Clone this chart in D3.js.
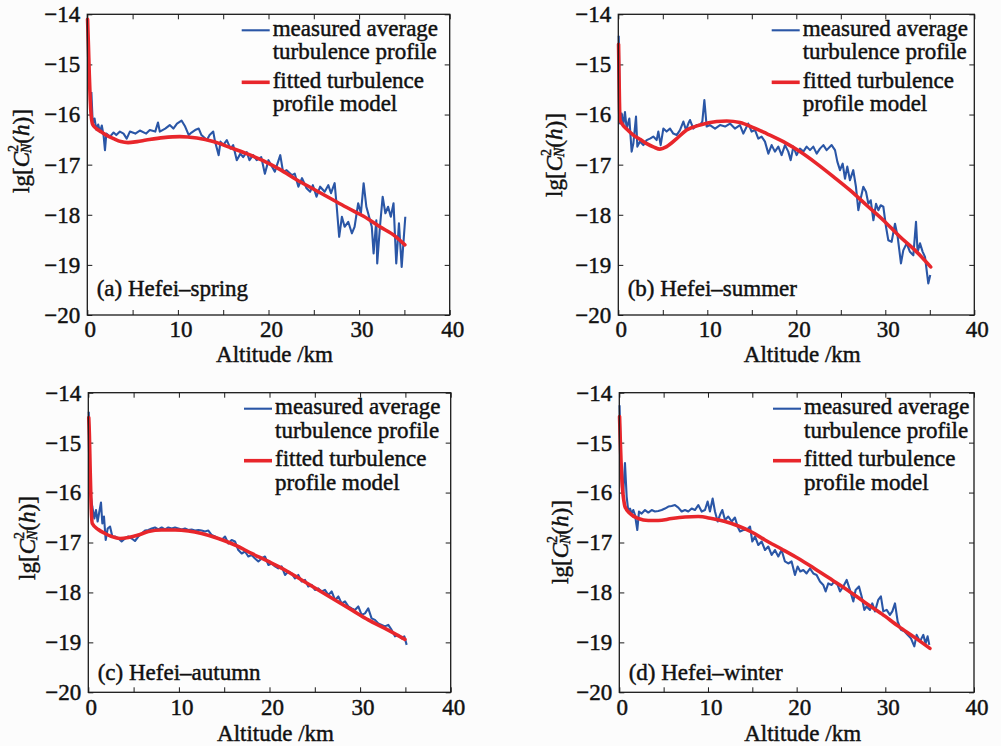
<!DOCTYPE html>
<html><head><meta charset="utf-8">
<script src="https://cdn.jsdelivr.net/npm/d3@7"></script>
<style>
html,body{margin:0;padding:0;background:#fcfcfc;}
svg{display:block;}
text{font-family:"Liberation Serif","Times New Roman",serif;fill:#111;stroke:#111;stroke-width:0.45px;}
</style></head>
<body>
<script>
// ---------------- data ----------------
const xTicks = [0, 5, 10, 15, 20, 25, 30, 35, 40];
const xTickLabels = [0, 10, 20, 30, 40];
const yTicks = [-20, -19, -18, -17, -16, -15, -14];
const legendLabels = [["measured average", "turbulence profile"], ["fitted turbulence", "profile model"]];
const panelTitles = ["(a) Hefei\u2013spring", "(b) Hefei\u2013summer", "(c) Hefei\u2013autumn", "(d) Hefei\u2013winter"];

const springMeasured = [[0.45,-15.55],[0.6,-16.18],[0.8,-16.08],[1.0,-16.3],[1.2,-16.2],[1.4,-16.35],[1.6,-16.22],[1.8,-16.42],[1.95,-16.71],[2.1,-16.38],[2.5,-16.44],[2.9,-16.36],[3.2,-16.41],[3.6,-16.34],[4.0,-16.38],[4.35,-16.48],[4.7,-16.34],[5.3,-16.38],[5.8,-16.32],[6.5,-16.38],[6.9,-16.31],[7.5,-16.34],[7.8,-16.16],[8.0,-16.34],[8.6,-16.28],[9.1,-16.21],[9.5,-16.28],[9.9,-16.18],[10.4,-16.12],[10.8,-16.24],[11.2,-16.41],[11.5,-16.36],[11.9,-16.31],[12.3,-16.28],[12.6,-16.41],[13.2,-16.51],[13.5,-16.41],[13.9,-16.34],[14.1,-16.54],[14.5,-16.81],[14.7,-16.54],[15.0,-16.61],[15.4,-16.51],[15.8,-16.68],[16.1,-16.61],[16.5,-16.91],[16.9,-16.78],[17.2,-16.85],[17.6,-16.75],[17.9,-16.91],[18.3,-16.81],[18.7,-16.91],[19.2,-16.85],[19.6,-17.18],[20.0,-16.91],[20.3,-17.01],[20.7,-17.14],[21.3,-16.81],[21.6,-17.14],[22.0,-17.11],[22.6,-17.21],[22.9,-17.18],[23.3,-17.44],[23.7,-17.27],[24.2,-17.47],[24.6,-17.54],[24.9,-17.41],[25.3,-17.64],[25.7,-17.44],[26.2,-17.54],[26.6,-17.41],[26.9,-17.57],[27.3,-17.37],[27.5,-17.77],[27.8,-18.44],[28.1,-18.04],[28.4,-18.24],[28.8,-18.14],[29.2,-18.37],[29.5,-18.24],[29.9,-17.77],[30.2,-17.97],[30.5,-17.37],[30.8,-17.84],[31.0,-17.97],[31.4,-18.24],[31.6,-18.77],[31.9,-18.11],[32.0,-18.97],[32.3,-18.24],[32.6,-17.64],[32.9,-17.97],[33.2,-17.84],[33.5,-18.04],[33.8,-17.77],[34.1,-18.97],[34.4,-18.17],[34.7,-19.04],[35.1,-18.04]];
const springFitted = [[0.03,-14.1],[0.12,-14.6],[0.22,-15.2],[0.32,-15.7],[0.42,-16.0],[0.6,-16.2],[1.0,-16.28],[1.4,-16.33],[2.0,-16.4],[2.9,-16.48],[3.7,-16.54],[4.5,-16.56],[5.5,-16.54],[6.5,-16.51],[8.4,-16.46],[10.2,-16.44],[12.1,-16.47],[13.9,-16.54],[15.8,-16.66],[17.6,-16.78],[19.4,-16.92],[21.3,-17.1],[23.1,-17.3],[24.9,-17.48],[26.8,-17.67],[28.6,-17.85],[30.5,-18.03],[32.3,-18.24],[34.0,-18.43],[35.05,-18.6]];

const summerMeasured = [[0.05,-14.43],[0.12,-15.3],[0.19,-16.18],[0.38,-15.98],[0.56,-16.21],[0.75,-15.95],[0.94,-16.28],[1.24,-16.08],[1.5,-16.74],[1.69,-16.58],[1.99,-16.04],[2.14,-16.64],[2.44,-16.54],[2.81,-16.61],[3.19,-16.51],[3.56,-16.48],[3.93,-16.44],[4.31,-16.51],[4.5,-16.34],[4.76,-16.61],[5.06,-16.28],[5.43,-16.34],[5.81,-16.28],[6.18,-16.38],[6.56,-16.41],[6.93,-16.31],[7.31,-16.14],[7.61,-16.31],[7.87,-16.18],[8.06,-16.11],[8.43,-16.28],[8.81,-16.21],[9.18,-16.21],[9.44,-16.14],[9.67,-15.71],[9.93,-16.24],[10.3,-16.21],[10.87,-16.28],[11.43,-16.21],[12.0,-16.24],[12.55,-16.18],[13.1,-16.28],[13.67,-16.21],[14.05,-16.38],[14.6,-16.18],[14.98,-16.34],[15.36,-16.31],[15.73,-16.48],[16.1,-16.44],[16.48,-16.54],[16.86,-16.78],[17.23,-16.61],[17.6,-16.74],[17.98,-16.64],[18.35,-16.81],[18.73,-16.61],[19.1,-16.74],[19.37,-16.91],[19.67,-16.64],[20.04,-16.81],[20.41,-16.68],[20.79,-16.74],[21.16,-16.64],[21.54,-16.71],[21.91,-16.64],[22.29,-16.78],[22.66,-16.68],[23.04,-16.61],[23.41,-16.71],[23.97,-16.61],[24.35,-16.71],[24.61,-16.94],[24.91,-17.11],[25.21,-16.98],[25.47,-17.28],[25.73,-17.04],[26.03,-17.31],[26.4,-17.11],[26.7,-17.44],[26.97,-17.91],[27.23,-17.68],[27.53,-17.44],[27.83,-17.54],[28.1,-17.78],[28.36,-17.71],[28.66,-18.11],[28.96,-17.78],[29.22,-17.91],[29.48,-17.81],[29.78,-17.84],[30.08,-18.24],[30.34,-18.51],[30.71,-18.54],[31.09,-18.18],[31.39,-18.44],[31.76,-18.97],[32.02,-18.71],[32.4,-18.57],[32.77,-18.74],[33.15,-18.81],[33.45,-18.14],[33.63,-18.74],[33.9,-18.57],[34.2,-18.74],[34.46,-18.84],[34.83,-19.37],[35.05,-19.2]];
const summerFitted = [[0.03,-14.6],[0.08,-15.2],[0.13,-15.75],[0.2,-16.1],[0.4,-16.18],[1.0,-16.3],[1.69,-16.41],[2.5,-16.5],[3.19,-16.58],[4.0,-16.65],[4.68,-16.69],[5.43,-16.64],[6.56,-16.48],[7.68,-16.31],[9.18,-16.21],[11.05,-16.14],[12.18,-16.13],[13.67,-16.16],[15.17,-16.26],[16.67,-16.38],[18.54,-16.54],[20.41,-16.74],[22.29,-16.98],[24.16,-17.24],[26.03,-17.51],[27.9,-17.81],[29.78,-18.11],[31.65,-18.44],[33.52,-18.74],[35.1,-19.04]];

const autumnMeasured = [[0.05,-14.38],[0.2,-15.6],[0.3,-16.1],[0.44,-16.28],[0.67,-16.52],[0.85,-16.35],[1.03,-16.58],[1.22,-16.38],[1.4,-16.2],[1.55,-16.62],[1.73,-16.48],[1.92,-16.95],[2.14,-16.72],[2.4,-16.68],[2.65,-16.88],[2.95,-16.88],[3.32,-16.92],[3.68,-16.98],[4.05,-16.92],[4.42,-16.88],[4.79,-16.92],[5.15,-16.97],[5.52,-16.88],[5.89,-16.82],[6.26,-16.76],[6.63,-16.75],[7.0,-16.72],[7.36,-16.7],[7.73,-16.74],[8.1,-16.7],[8.47,-16.74],[8.83,-16.7],[9.2,-16.72],[9.57,-16.7],[9.94,-16.72],[10.31,-16.74],[10.67,-16.72],[11.04,-16.75],[11.41,-16.74],[11.78,-16.76],[12.15,-16.75],[12.51,-16.76],[12.88,-16.78],[13.25,-16.76],[13.62,-16.85],[13.99,-16.88],[14.35,-16.92],[14.72,-16.95],[15.09,-16.88],[15.46,-17.02],[15.82,-16.95],[16.19,-16.98],[16.56,-17.15],[16.93,-17.22],[17.3,-17.18],[17.66,-17.28],[18.03,-17.25],[18.4,-17.32],[18.77,-17.38],[19.14,-17.32],[19.5,-17.28],[19.87,-17.45],[20.24,-17.42],[20.61,-17.48],[20.97,-17.52],[21.34,-17.48],[21.71,-17.65],[22.08,-17.58],[22.44,-17.62],[22.81,-17.72],[23.18,-17.65],[23.55,-17.78],[23.92,-17.75],[24.28,-17.88],[24.65,-17.85],[25.02,-17.95],[25.39,-17.92],[25.75,-17.98],[26.12,-17.95],[26.49,-18.05],[26.86,-17.98],[27.23,-18.15],[27.6,-18.08],[27.96,-18.22],[28.33,-18.18],[28.7,-18.28],[29.07,-18.32],[29.43,-18.35],[29.8,-18.28],[30.17,-18.45],[30.54,-18.42],[30.9,-18.32],[31.27,-18.52],[31.64,-18.55],[32.01,-18.62],[32.38,-18.65],[32.74,-18.68],[33.11,-18.65],[33.48,-18.75],[33.85,-18.88],[34.22,-18.85],[34.58,-18.92],[34.88,-18.88],[35.14,-19.05]];
const autumnFitted = [[0.05,-14.5],[0.12,-14.85],[0.2,-15.5],[0.3,-16.2],[0.44,-16.62],[1.1,-16.74],[1.84,-16.82],[2.58,-16.88],[3.5,-16.92],[4.42,-16.9],[5.52,-16.85],[6.63,-16.78],[8.1,-16.75],[9.57,-16.75],[11.04,-16.77],[12.51,-16.82],[14.35,-16.92],[16.19,-17.05],[18.03,-17.22],[19.87,-17.38],[21.71,-17.55],[23.55,-17.75],[25.39,-17.95],[27.23,-18.15],[29.07,-18.35],[30.9,-18.55],[32.74,-18.72],[34.95,-18.94]];

const winterMeasured = [[0.03,-14.25],[0.15,-15.2],[0.3,-15.9],[0.45,-16.0],[0.64,-15.41],[0.83,-16.08],[1.02,-16.38],[1.21,-16.32],[1.39,-16.42],[1.58,-16.35],[1.77,-16.45],[2.03,-16.75],[2.22,-16.38],[2.52,-16.42],[2.9,-16.35],[3.27,-16.4],[3.65,-16.35],[4.02,-16.38],[4.4,-16.37],[4.78,-16.35],[5.15,-16.32],[5.53,-16.28],[5.9,-16.27],[6.28,-16.25],[6.66,-16.3],[7.03,-16.38],[7.41,-16.35],[7.78,-16.38],[8.16,-16.32],[8.53,-16.35],[8.91,-16.25],[9.29,-16.38],[9.66,-16.35],[9.96,-16.18],[10.22,-16.38],[10.53,-16.12],[10.79,-16.38],[11.09,-16.58],[11.35,-16.45],[11.62,-16.35],[11.92,-16.55],[12.29,-16.48],[12.67,-16.58],[13.04,-16.5],[13.34,-16.68],[13.61,-16.78],[13.98,-16.75],[14.36,-16.75],[14.74,-16.68],[15.0,-16.98],[15.3,-16.88],[15.68,-17.05],[16.05,-16.98],[16.43,-17.15],[16.8,-17.08],[17.18,-17.25],[17.55,-17.15],[17.93,-17.28],[18.3,-17.15],[18.68,-17.38],[19.05,-17.42],[19.43,-17.38],[19.81,-17.65],[20.11,-17.48],[20.41,-17.58],[20.75,-17.55],[21.12,-17.62],[21.5,-17.52],[21.88,-17.62],[22.25,-17.65],[22.63,-17.78],[23.0,-17.85],[23.27,-17.98],[23.57,-17.82],[23.95,-17.85],[24.25,-17.78],[24.62,-17.85],[24.89,-17.98],[25.26,-17.88],[25.64,-17.75],[26.01,-17.95],[26.39,-18.18],[26.65,-17.95],[27.03,-17.88],[27.33,-18.08],[27.63,-18.35],[27.89,-18.28],[28.27,-18.35],[28.53,-18.22],[28.83,-18.38],[29.2,-18.15],[29.5,-18.08],[29.77,-18.38],[30.15,-18.35],[30.52,-18.45],[30.79,-18.38],[31.09,-18.22],[31.39,-18.58],[31.76,-18.75],[32.14,-18.78],[32.51,-18.85],[32.89,-18.92],[33.27,-19.08],[33.53,-18.85],[33.91,-18.98],[34.28,-18.85],[34.54,-19.02],[34.77,-18.88],[34.96,-19.05]];
const winterFitted = [[0.03,-14.48],[0.1,-14.9],[0.2,-15.4],[0.35,-15.9],[0.5,-16.15],[0.64,-16.28],[1.21,-16.42],[2.15,-16.52],[3.27,-16.56],[4.4,-16.56],[5.9,-16.52],[7.41,-16.49],[8.91,-16.48],[10.41,-16.52],[11.92,-16.58],[13.42,-16.67],[14.92,-16.79],[16.43,-16.95],[18.3,-17.13],[20.2,-17.32],[22.0,-17.52],[24.0,-17.75],[25.8,-17.96],[27.7,-18.2],[29.6,-18.43],[31.5,-18.68],[33.3,-18.9],[35.03,-19.12]];

const seriesMeasured = [springMeasured, summerMeasured, autumnMeasured, winterMeasured];
const seriesFitted = [springFitted, summerFitted, autumnFitted, winterFitted];

// ---------------- layout ----------------
const panels = [
  {L:87.3, R:449.7, T:14.3, B:315, yLab:[21,151], xLabY:362, titleDy:-19, legX:185.4},
  {L:618.3, R:974.3, T:14.3, B:315, yLab:[554,155], xLabY:362, titleDy:-19, legX:184.4},
  {L:88.3, R:450.7, T:392.7, B:692.3, yLab:[27,538], xLabY:741, titleDy:-12, legX:186.7},
  {L:619.3, R:974.0, T:392.7, B:692.3, yLab:[560,542], xLabY:741, titleDy:-12, legX:184.7}
];
const BLUE = "#2a56a6", RED = "#e8262b", INK = "#1a1a1a";
const FS = 23;

const svg = d3.select("body").append("svg").attr("width",1001).attr("height",746);
svg.append("rect").attr("width",1001).attr("height",746).attr("fill","#fcfcfc");

panels.forEach((p, i) => {
  const x = d3.scaleLinear().domain([0,40]).range([p.L,p.R]);
  const y = d3.scaleLinear().domain([-20,-14]).range([p.B,p.T]);
  const g = svg.append("g");

  g.append("rect").attr("x",p.L).attr("y",p.T).attr("width",p.R-p.L).attr("height",p.B-p.T)
    .attr("fill","#fdfdfd");

  const fmtMinus = d => d3.format("d")(d);
  const axB = g.append("g").attr("transform",`translate(0,${p.B})`)
    .call(d3.axisBottom(x).tickValues(xTicks).tickSizeInner(-5).tickSizeOuter(0).tickPadding(6)
      .tickFormat(d => xTickLabels.includes(d) ? String(d) : ""));
  const axT = g.append("g").attr("transform",`translate(0,${p.T})`)
    .call(d3.axisTop(x).tickValues(xTicks).tickSizeInner(-5).tickSizeOuter(0).tickFormat(""));
  const axL = g.append("g").attr("transform",`translate(${p.L},0)`)
    .call(d3.axisLeft(y).tickValues(yTicks).tickSizeInner(-5).tickSizeOuter(0).tickPadding(7).tickFormat(fmtMinus));
  const axR = g.append("g").attr("transform",`translate(${p.R},0)`)
    .call(d3.axisRight(y).tickValues(yTicks).tickSizeInner(-5).tickSizeOuter(0).tickFormat(""));
  [axB,axT,axL,axR].forEach(a => {
    a.select(".domain").remove();
    a.selectAll("line").attr("stroke",INK).attr("stroke-width",1);
    a.selectAll("text").attr("font-family","Liberation Serif").attr("font-size",FS).attr("fill","#111");
  });
  axB.selectAll("text").attr("dx",2.5);

  const line = d3.line().x(d => x(d[0])).y(d => y(d[1]));
  g.append("path").datum(seriesMeasured[i]).attr("d",line)
    .attr("fill","none").attr("stroke",BLUE).attr("stroke-width",2.1).attr("stroke-linejoin","round");
  g.append("path").datum(seriesFitted[i]).attr("d",line.curve(d3.curveMonotoneX))
    .attr("fill","none").attr("stroke",RED).attr("stroke-width",3.6).attr("stroke-linecap","round").attr("stroke-linejoin","round");

  g.append("rect").attr("x",p.L).attr("y",p.T).attr("width",p.R-p.L).attr("height",p.B-p.T)
    .attr("fill","none").attr("stroke",INK).attr("stroke-width",1.3);

  // legend
  const tx = p.L + p.legX;
  [[BLUE,2.1,16],[RED,3.6,68]].forEach(([c,w,dy],k) => {
    g.append("line").attr("x1",tx-31).attr("x2",tx-3).attr("y1",p.T+dy).attr("y2",p.T+dy)
      .attr("stroke",c).attr("stroke-width",w);
    legendLabels[k].forEach((s,j) => {
      g.append("text").attr("x",tx).attr("y",p.T+dy+5.5+j*23.5).attr("font-size",FS).text(s);
    });
  });

  // panel title
  g.append("text").attr("x",p.L+9.4).attr("y",p.B+p.titleDy).attr("font-size",FS).text(panelTitles[i]);

  // x label
  g.append("text").attr("x",(p.L+p.R)/2+6).attr("y",p.xLabY).attr("text-anchor","middle").attr("font-size",FS).text("Altitude /km");

  // y label
  const yl = g.append("text").attr("transform",`translate(${p.yLab[0]},${p.yLab[1]}) rotate(-90)`)
    .attr("text-anchor","middle").attr("dominant-baseline","central").attr("font-size",FS);
  yl.append("tspan").text("lg[");
  yl.append("tspan").attr("font-style","italic").text("C");
  yl.append("tspan").attr("font-size",14).attr("dy",-8).text("2");
  yl.append("tspan").attr("font-size",14).attr("font-style","italic").attr("dx",-8).attr("dy",13).text("N");
  yl.append("tspan").attr("dy",-5).text("(");
  yl.append("tspan").attr("font-style","italic").text("h");
  yl.append("tspan").text(")]");
});
</script>
</body></html>
